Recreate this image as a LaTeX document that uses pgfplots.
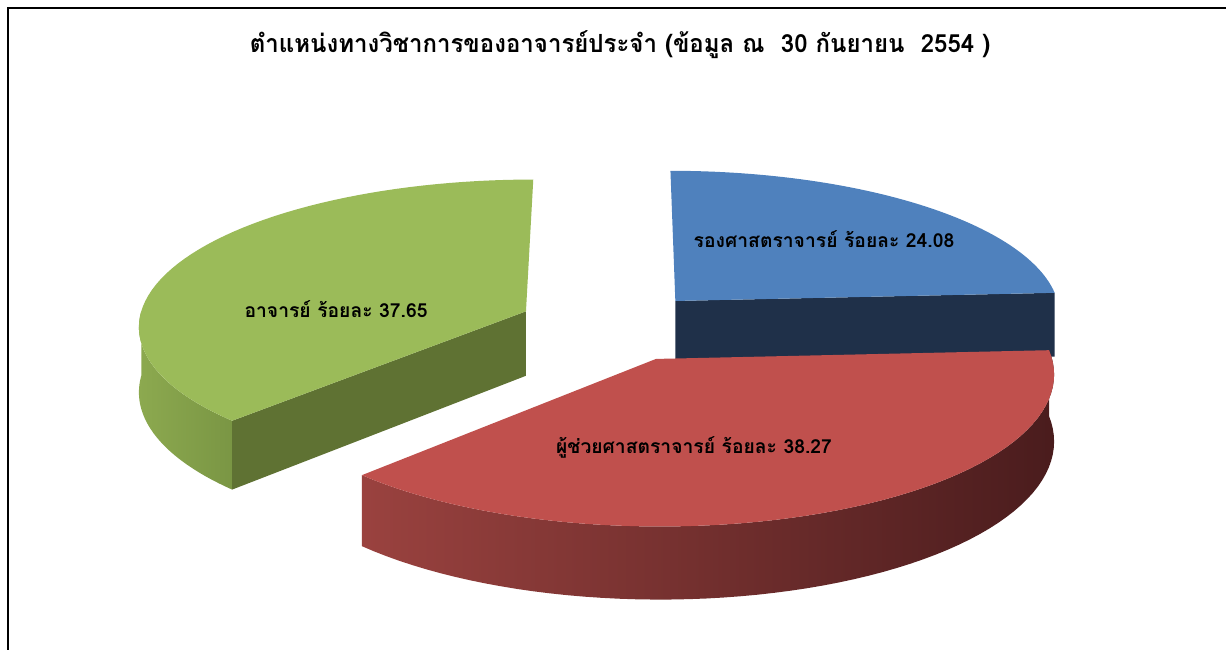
\documentclass[border=0pt]{standalone}
\usepackage{pgfplots}
\usepackage{pgfplotstable}
\pgfplotsset{compat=1.18}
\usepackage{fontspec}
\newfontfamily\thaifont[Script=Thai]{Loma}

\definecolor{blueTop}{HTML}{4F81BD}
\definecolor{blueSide}{HTML}{1F3049}
\definecolor{redTop}{HTML}{C0504D}
\definecolor{redSideL}{HTML}{9A423F}
\definecolor{redSideR}{HTML}{4A1C1D}
\definecolor{greenTop}{HTML}{9BBB59}
\definecolor{greenCut}{HTML}{5F7233}
\definecolor{greenSideL}{HTML}{8CA94F}
\definecolor{greenSideR}{HTML}{7A9644}

% share of each academic rank (per cent)
\pgfplotstableread{
idx value
0 24.08
1 38.27
2 37.65
}\piedata

% projection parameters (pixel units)
\def\XO{615}
\def\YO{325}
\def\AA{388}
\def\BB{146}
\def\KK{0.09}
\def\HH{65}
\def\EB{0.23}
\def\ER{0.25}
\def\EG{0.25}

\begin{document}
\begin{tikzpicture}
\pgfplotstablegetelem{0}{value}\of\piedata \let\vA\pgfplotsretval
\pgfplotstablegetelem{1}{value}\of\piedata \let\vB\pgfplotsretval
\pgfplotstablegetelem{2}{value}\of\piedata \let\vC\pgfplotsretval
\pgfmathsetmacro\bE{90}
\pgfmathsetmacro\bS{90-3.6*\vA}
\pgfmathsetmacro\rE{\bS}
\pgfmathsetmacro\rS{\bS-3.6*\vB}
\pgfmathsetmacro\gE{\rS+360}
\pgfmathsetmacro\gS{\gE-3.6*\vC}
\pgfmathsetmacro\mB{(\bS+\bE)/2}
\pgfmathsetmacro\mR{(\rS+\rE)/2}
\pgfmathsetmacro\mG{(\gS+\gE)/2}
\pgfmathsetmacro\oxB{\EB*cos(\mB)}
\pgfmathsetmacro\oyB{\EB*sin(\mB)}
\pgfmathsetmacro\oxR{\ER*cos(\mR)}
\pgfmathsetmacro\oyR{\ER*sin(\mR)}
\pgfmathsetmacro\oxG{\EG*cos(\mG)}
\pgfmathsetmacro\oyG{\EG*sin(\mG)}
\begin{axis}[
  width=1226pt, height=649pt, scale only axis,
  xmin=0, xmax=1226, ymin=0, ymax=649, y dir=reverse,
  hide axis, clip=true,
  declare function={
    ww(\a,\r,\oy)=1+\KK*(\oy+\r*sin(\a));
    sx(\a,\r,\ox,\oy)=\XO+\AA*(\ox+\r*cos(\a))/ww(\a,\r,\oy);
    sy(\a,\r,\oy,\h)=\YO+(-\BB*(\oy+\r*sin(\a))+\h)/ww(\a,\r,\oy);
  },
]
% frame
\draw[line width=2.5pt, black] (axis cs:8,700) -- (axis cs:8,8) -- (axis cs:1300,8);

% ---------- green slice (อาจารย์) ----------
\addplot[draw=none, left color=greenSideL, right color=greenSideR, samples at={0,...,121}, variable=\i]
 ({sx(180+(\gE-180)*((\i<61)*\i/60+(\i>60)*(1-(\i-61)/60)),1,\oxG,\oyG)},
  {sy(180+(\gE-180)*((\i<61)*\i/60+(\i>60)*(1-(\i-61)/60)),1,\oyG,(\i>60)*\HH)});
\addplot[draw=none, fill=greenCut, samples at={0,1,2,3}, variable=\i]
 ({sx(\gE,(\i>0)*(\i<3),\oxG,\oyG)},{sy(\gE,(\i>0)*(\i<3),\oyG,(\i>1)*\HH)});
\addplot[draw=none, fill=greenTop, samples at={0,...,61}, variable=\i]
 ({sx(\gS+(\gE-\gS)*min(\i,60)/60,(\i<61),\oxG,\oyG)},{sy(\gS+(\gE-\gS)*min(\i,60)/60,(\i<61),\oyG,0)});

% ---------- blue slice (รองศาสตราจารย์) ----------
\addplot[draw=none, fill=blueSide, samples at={0,1,2,3}, variable=\i]
 ({sx(\bS,(\i>0)*(\i<3),\oxB,\oyB)},{sy(\bS,(\i>0)*(\i<3),\oyB,(\i>1)*\HH)});
\addplot[draw=none, fill=blueTop, samples at={0,...,61}, variable=\i]
 ({sx(\bS+(\bE-\bS)*min(\i,60)/60,(\i<61),\oxB,\oyB)},{sy(\bS+(\bE-\bS)*min(\i,60)/60,(\i<61),\oyB,0)});

% ---------- red slice (ผู้ช่วยศาสตราจารย์) ----------
\addplot[draw=none, left color=redSideL, right color=redSideR, samples at={0,...,121}, variable=\i]
 ({sx(\rS+(\rE-\rS)*((\i<61)*\i/60+(\i>60)*(1-(\i-61)/60)),1,\oxR,\oyR)},
  {sy(\rS+(\rE-\rS)*((\i<61)*\i/60+(\i>60)*(1-(\i-61)/60)),1,\oyR,(\i>60)*\HH)});
\addplot[draw=none, fill=redTop, samples at={0,...,61}, variable=\i]
 ({sx(\rS+(\rE-\rS)*min(\i,60)/60,(\i<61),\oxR,\oyR)},{sy(\rS+(\rE-\rS)*min(\i,60)/60,(\i<61),\oyR,0)});

% labels
\node[font=\thaifont\bfseries\fontsize{19.3}{23}\selectfont] at (axis cs:824,239) {รองศาสตราจารย์ ร้อยละ 24.08};
\node[font=\thaifont\bfseries\fontsize{19.3}{23}\selectfont] at (axis cs:336,309) {อาจารย์ ร้อยละ 37.65};
\node[font=\thaifont\bfseries\fontsize{19.3}{23}\selectfont] at (axis cs:694,447) {ผู้ช่วยศาสตราจารย์ ร้อยละ 38.27};
% title
\node[font=\thaifont\bfseries\fontsize{25}{30}\selectfont, xscale=0.96] at (axis cs:620,45) {ตำแหน่งทางวิชาการของอาจารย์ประจำ (ข้อมูล ณ \ 30 กันยายน \ 2554 )};
\end{axis}
\pgfresetboundingbox
\useasboundingbox (current axis.south west) rectangle (current axis.north east);
\end{tikzpicture}
\end{document}
